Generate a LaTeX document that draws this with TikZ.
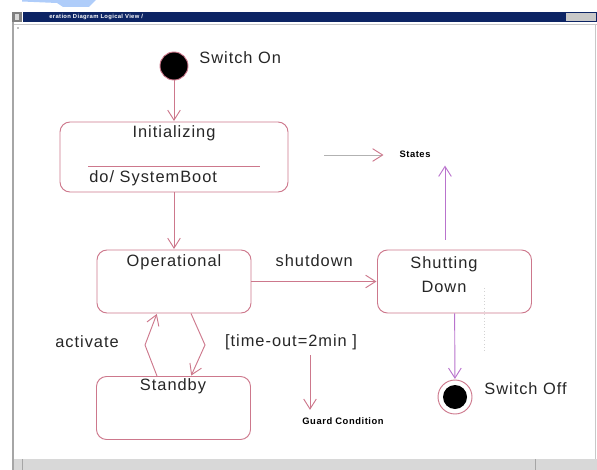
\documentclass[tikz,border=0pt]{standalone}
\usepackage{fontspec}
\setmainfont{Liberation Sans}[LetterSpace=6]
\usepackage{tikz}
\usetikzlibrary{arrows.meta}

\definecolor{rose}{RGB}{205,120,140}
\definecolor{lilac}{RGB}{185,115,205}
\definecolor{titlenavy}{RGB}{12,36,100}
\definecolor{framegray}{RGB}{200,200,200}
\definecolor{glareblue}{RGB}{175,205,250}

\begin{document}
\begin{tikzpicture}[x=0.3mm,y=-0.3mm,line width=0.8pt,>={Straight Barb[length=3mm,width=3.8mm]},font=\fontsize{14}{16}\selectfont,text=black!85]
	\def \toplevel{281.5}
	\def \standbylevel{408}
	\tikzstyle{state}=[rectangle,draw=rose,rounded corners=3mm,minimum width=46.2mm,minimum height=18.9mm]
	\tikzstyle{start}=[circle,draw=rose,fill=black,inner sep=0pt,minimum size=8.4mm]
	\tikzstyle{stop-ring}=[circle,draw=rose,inner sep=0pt,minimum size=10.2mm]
	\tikzstyle{stop-dot}=[circle,fill=black,inner sep=0pt,minimum size=7.2mm]
	\tikzstyle{annot}=[font=\fontsize{8}{9}\selectfont\bfseries,text=black]
	\tikzstyle{trans}=[draw=rose,->,shorten >=0.5pt]
	\useasboundingbox (0,0) rectangle (597,470);

	% window frame
	\fill[glareblue] (22,0) -- (96,0) -- (89,7) -- (63,7) -- (57,3) -- (22,1.5) -- cycle;
	\fill[titlenavy] (23,12) rectangle (597,22);
	\fill[gray] (12,12) rectangle (22,22);
	\fill[gray!30] (15,14) rectangle (19,20);
	\fill[framegray] (566,13) rectangle (596,21);
	\node[anchor=west,text=white,font=\fontsize{5}{6}\selectfont\bfseries] (title) at (45,17) {eration Diagram Logical View /};
	\draw[gray!70,line width=1.2pt] (13,22) -- (13,470);
	\draw[framegray,line width=0.6pt] (14,24) -- (597,24);
	\draw[framegray,line width=0.6pt] (595,24) -- (595,459);
	\fill[framegray!70] (14,459) rectangle (597,470);
	\draw[gray!70,line width=0.6pt] (22,459) -- (22,470);
	\draw[gray!70,line width=0.6pt] (535,459) -- (535,470);
	\fill[gray] (18,28) circle (0.8);

	% pseudo states
	\node[start] 	(on)	at (174,66)	{};
	\node[stop-ring]	(off)	at (455,397)	{};
	\node[stop-dot]	(off-dot)	at (455,397)	{};
	\node[anchor=west] (on-label)	at (195,58)	{Switch On};
	\node[anchor=west] (off-label)	at (480,389)	{Switch Off};

	% states
	\node[state,minimum width=68.4mm,minimum height=21mm] (init) at (174,157) {};
	\node[state] 	(op)	at (174,\toplevel)	{};
	\node[state] 	(shut)	at (454.5,\toplevel)	{};
	\node[state] 	(stby)	at (173.5,\standbylevel)	{};
	\node (init-name)	at (174,133)	{Initializing};
	\node[anchor=west] (init-do)	at (85,178)	{do/ SystemBoot};
	\draw[rose] (88,166) -- (260,166);
	\node (op-name)	at (174,262)	{Operational};
	\node[align=center] (shut-name)	at (444,275)	{Shutting\\[1.5mm]Down};
	\node (stby-name)	at (173,386)	{Standby};
	\draw[gray!35,dotted] (484,288) -- (484,352);

	% transitions
	\path
		(on)	edge[trans]	(init)
		(init)	edge[trans]	(op)
		(op)	edge[trans]	node[above=3mm]	{shutdown}	(shut)
		(shut)	edge[trans,draw=lilac]	(off);
	\coordinate (act-x)	at (157,0);
	\coordinate (act-bend)	at (145,345);
	\coordinate (tmo-x)	at (191,0);
	\coordinate (tmo-bend)	at (205,345);
	\draw[trans] (stby.north -| act-x) -- (act-bend) -- (op.south -| act-x);
	\draw[trans] (op.south -| tmo-x) -- (tmo-bend) -- (stby.north -| tmo-x);
	\node (act-label)	at (87,342)	{activate};
	\node (tmo-label)	at (291,342)	{[time-out=2min ]};

	% notes
	\node[annot] (states)	at (415,154)	{States};
	\node[annot] (guard)	at (343,421)	{Guard Condition};
	\coordinate (states-tail)	at (324,155);
	\coordinate (states-up)	at (445,165);
	\coordinate (guard-tail)	at (310,355);
	\draw[gray!60,-{Straight Barb[length=3mm,width=3.8mm,color=rose]},shorten >=3.5mm] (states-tail) -- (states-tail -| states.west);
	\draw[trans,draw=lilac,shorten <=3mm] (shut.north -| states-up) -- (states-up);
	\draw[trans,shorten >=1mm] (guard-tail) -- (guard-tail |- guard.north);
\end{tikzpicture}
\end{document}
